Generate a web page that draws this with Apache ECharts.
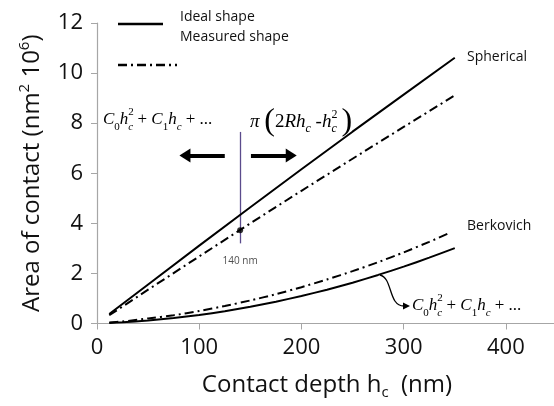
<!DOCTYPE html>
<html>
<head>
<meta charset="utf-8">
<script src="https://cdn.jsdelivr.net/npm/echarts@6/dist/echarts.min.js"></script>
<style>
  html, body { margin: 0; padding: 0; background: #fff; }
  #chart { width: 554px; height: 406px; }
</style>
</head>
<body>
<div id="chart"></div>
<script>
// contact depth (nm) and area (nm^2 x 10^6)
var depthSph = [12, 50, 100, 150, 200, 250, 300, 350];
var sphIdeal = [0.38, 1.56, 3.11, 4.64, 6.16, 7.66, 9.14, 10.61];
var sphMeasured = [0.33, 1.35, 2.68, 4.00, 5.30, 6.58, 7.85, 9.11];

var depthBerk = [12, 25, 50, 75, 100, 125, 150, 175, 200, 225, 250, 275, 300, 325, 350];
var berkIdeal = [0.02, 0.05, 0.12, 0.22, 0.34, 0.49, 0.67, 0.87, 1.10, 1.35, 1.63, 1.94, 2.27, 2.63, 3.01];
var depthBerkMeas = [12, 25, 50, 75, 100, 125, 150, 175, 200, 225, 250, 275, 300, 325, 344];
var berkMeasured = [0.04, 0.08, 0.20, 0.33, 0.50, 0.70, 0.92, 1.17, 1.45, 1.76, 2.09, 2.45, 2.84, 3.26, 3.60];

var markDepth = [140];
var markArea = [3.72];

var xTicks = [0, 100, 200, 300, 400];
var yTicks = [0, 2, 4, 6, 8, 10, 12];

function pairs(xs, ys) {
  return xs.map(function (x, i) { return [x, ys[i]]; });
}

var sansFont = '"Open Sans", "Liberation Sans", sans-serif';
var serifFont = '"Liberation Serif", "DejaVu Serif", serif';
var dashDot = [9, 4, 2, 4];

// rich styles for the small math formulas
function mathStyles(size, bigSize, smallSize) {
  return {
    i: { fontFamily: serifFont, fontStyle: 'italic', fontSize: size, lineHeight: 26, color: '#000' },
    n: { fontFamily: serifFont, fontSize: size, lineHeight: 26, color: '#000' },
    big: { fontFamily: serifFont, fontSize: bigSize, lineHeight: 26, color: '#000' },
    sub: { fontFamily: serifFont, fontStyle: 'italic', fontSize: smallSize, lineHeight: smallSize, verticalAlign: 'bottom', color: '#000' },
    subn: { fontFamily: serifFont, fontSize: smallSize, lineHeight: smallSize, verticalAlign: 'bottom', color: '#000' },
    supz: { fontFamily: serifFont, fontSize: smallSize, lineHeight: smallSize + 2, verticalAlign: 'top', width: 0, color: '#000' }
  };
}
var polyRich = mathStyles(17, 26, 11);
var sphereRich = mathStyles(19, 32, 12);
var polyText = '{i|C}{subn|0}{i|h}{supz|2}{sub|c}{n| + }{i|C}{subn|1}{i|h}{sub|c}{n| + ...}';
var sphereText = '{i|π}{n| }{big|(}{n|2}{i|Rh}{sub|c}{n| -}{i|h}{supz|2}{sub|c}{n| }{big|)}';

var chart = echarts.init(document.getElementById('chart'));

chart.setOption({
  animation: false,
  backgroundColor: '#fff',
  grid: { left: 97, right: -3, top: 23, bottom: 82.5, containLabel: false, outerBoundsMode: 'none' },
  xAxis: {
    type: 'value',
    min: xTicks[0],
    max: 450,
    interval: 100,
    name: 'Contact depth h{sub|c}  (nm)',
    nameLocation: 'middle',
    nameGap: 47,
    nameTextStyle: {
      fontFamily: sansFont, fontSize: 24, lineHeight: 30, color: '#111',
      rich: { sub: { fontFamily: sansFont, fontSize: 15, lineHeight: 15, verticalAlign: 'bottom', color: '#111' } }
    },
    splitLine: { show: false },
    axisLine: { lineStyle: { color: '#a6a6a6', width: 1.2 } },
    axisTick: { length: 6, lineStyle: { color: '#a6a6a6' } },
    axisLabel: {
      fontFamily: sansFont, fontSize: 22, color: '#111', margin: 13,
      showMaxLabel: false,
      formatter: function (v) { return xTicks.indexOf(v) >= 0 ? String(v) : ''; }
    }
  },
  yAxis: {
    type: 'value',
    min: yTicks[0],
    max: yTicks[yTicks.length - 1],
    interval: 2,
    name: 'Area of contact (nm{sup|2} 10{sup|6})',
    nameLocation: 'middle',
    nameGap: 50,
    nameTextStyle: {
      fontFamily: sansFont, fontSize: 24, lineHeight: 30, color: '#111',
      rich: { sup: { fontFamily: sansFont, fontSize: 15, lineHeight: 15, verticalAlign: 'top', color: '#111' } }
    },
    splitLine: { show: false },
    axisLine: { show: true, lineStyle: { color: '#a6a6a6', width: 1.2 } },
    axisTick: { show: true, length: 6, lineStyle: { color: '#a6a6a6' } },
    axisLabel: { fontFamily: sansFont, fontSize: 22, color: '#111', margin: 14 }
  },
  series: [
    {
      name: 'Spherical ideal', type: 'line', showSymbol: false,
      data: pairs(depthSph, sphIdeal),
      lineStyle: { color: '#000', width: 2 }
    },
    {
      name: 'Spherical measured', type: 'line', showSymbol: false,
      data: pairs(depthSph, sphMeasured),
      lineStyle: { color: '#000', width: 2, type: dashDot },
      markLine: {
        silent: true,
        symbol: 'none',
        z: 1,
        label: { show: false },
        data: [
          [
            { coord: [markDepth[0], 3.2], lineStyle: { color: '#5b4b8c', width: 1.3, type: 'solid' } },
            { coord: [markDepth[0], 7.65] }
          ],
          [
            { coord: [125, 6.71], symbol: 'none', lineStyle: { color: '#000', width: 4, type: 'solid' } },
            { coord: [86, 6.71], symbol: 'triangle', symbolSize: [14, 11] }
          ],
          [
            { coord: [150.6, 6.71], symbol: 'none', lineStyle: { color: '#000', width: 4, type: 'solid' } },
            { coord: [190, 6.71], symbol: 'triangle', symbolSize: [14, 11] }
          ]
        ]
      }
    },
    {
      name: 'Berkovich ideal', type: 'line', showSymbol: false, smooth: 0.2,
      data: pairs(depthBerk, berkIdeal),
      lineStyle: { color: '#000', width: 2 }
    },
    {
      name: 'Berkovich measured', type: 'line', showSymbol: false, smooth: 0.2,
      data: pairs(depthBerkMeas, berkMeasured),
      lineStyle: { color: '#000', width: 2, type: dashDot }
    },
    {
      name: '140 nm', type: 'scatter', symbolSize: 6, z: 10,
      data: pairs(markDepth, markArea),
      itemStyle: { color: '#000' },
      label: {
        show: true, position: 'bottom', distance: 23,
        formatter: '140 nm', fontFamily: sansFont, fontSize: 10, color: '#222'
      }
    }
  ],
  graphic: [
    // legend
    { type: 'line', shape: { x1: 118, y1: 24, x2: 163, y2: 24 }, style: { stroke: '#000', lineWidth: 2.5 } },
    { type: 'text', x: 180, y: 17, style: { text: 'Ideal shape', font: '14px ' + sansFont, fill: '#111', verticalAlign: 'middle' } },
    { type: 'text', x: 180, y: 37, style: { text: 'Measured shape', font: '14px ' + sansFont, fill: '#111', verticalAlign: 'middle' } },
    { type: 'line', shape: { x1: 118, y1: 65, x2: 177, y2: 65 }, style: { stroke: '#000', lineWidth: 2.5, lineDash: dashDot } },
    // curve labels
    { type: 'text', x: 467, y: 57, style: { text: 'Spherical', font: '14px ' + sansFont, fill: '#111', verticalAlign: 'middle' } },
    { type: 'text', x: 467, y: 226, style: { text: 'Berkovich', font: '14px ' + sansFont, fill: '#111', verticalAlign: 'middle' } },
    // formulas
    { type: 'text', x: 103, y: 120, style: { text: polyText, rich: polyRich, verticalAlign: 'middle' } },
    { type: 'text', x: 250, y: 122, style: { text: sphereText, rich: sphereRich, verticalAlign: 'middle' } },
    { type: 'text', x: 412, y: 306, style: { text: polyText, rich: polyRich, verticalAlign: 'middle' } },
    // curved pointer to the Berkovich curve
    { type: 'bezierCurve', shape: { x1: 380, y1: 275, cpx1: 393, cpy1: 278, cpx2: 388, cpy2: 306, x2: 404, y2: 306 },
      style: { stroke: '#000', lineWidth: 1.3, fill: null } },
    { type: 'polygon', shape: { points: [[410, 306], [403, 302.5], [403, 309.5]] }, style: { fill: '#000' } }
  ]
});
</script>
</body>
</html>
